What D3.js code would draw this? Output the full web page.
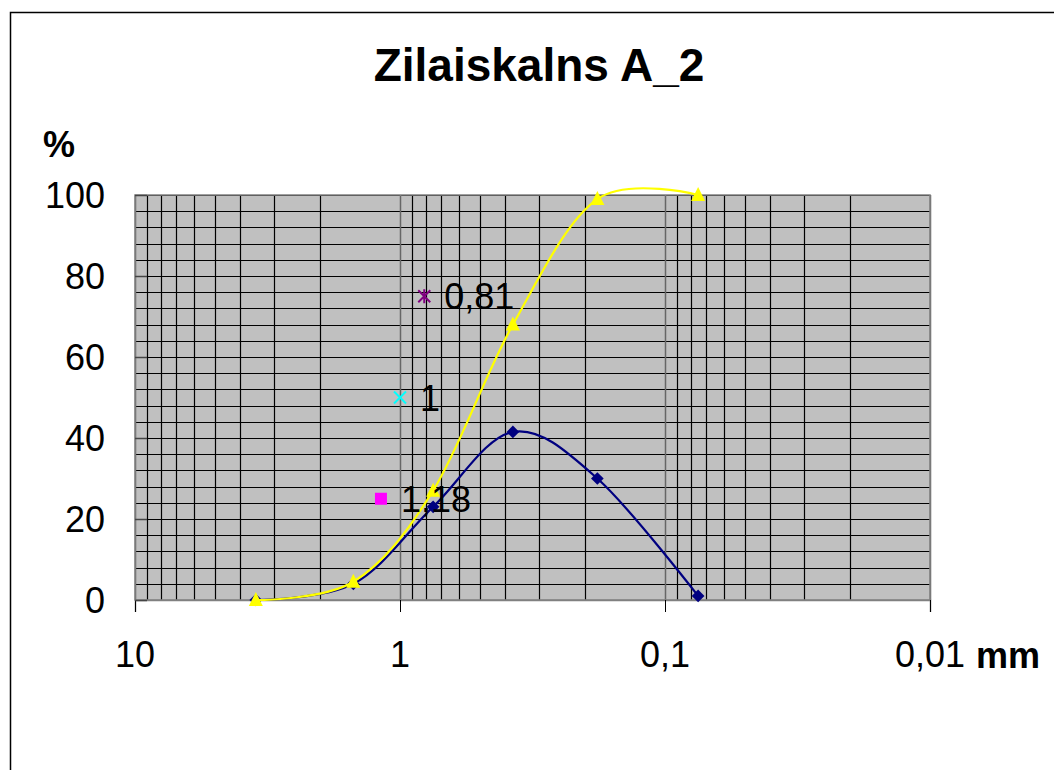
<!DOCTYPE html>
<html>
<head>
<meta charset="utf-8">
<script src="https://cdn.jsdelivr.net/npm/d3@7"></script>
<style>
    body { margin: 0; background: #fff; }
    svg text { font-family: Arial, "Liberation Sans", sans-serif; fill: #000; }
</style>
</head>
<body>
<div id="chart"></div>
<script>
// grain size (mm) of the sieve fractions
var sizes = [3.5, 1.5, 0.75, 0.375, 0.18, 0.075];
// fraction % (blue) and cumulative % (yellow)
var fraction = [0, 4, 23, 41.5, 30, 1];
var cumulative = [0, 4.5, 27, 68, 99, 100];

// single points: grain size label + level
var pointSizes = [1.18, 1, 0.81];
var pointLevels = [25, 50, 75];
var pointLabels = ["1,18", "1", "0,81"];

var xTickValues = [10, 1, 0.1, 0.01];
var xTickLabels = ["10", "1", "0,1", "0,01"];
var yTickValues = [0, 20, 40, 60, 80, 100];

var width = 1054,
    height = 770;

var svg = d3.select('#chart').append('svg')
    .attr('width', width)
    .attr('height', height);

// outer chart frame
svg.append('rect')
    .attr('x', 10.5).attr('y', 12.5)
    .attr('width', 1100).attr('height', 800)
    .attr('fill', '#fff')
    .attr('stroke', '#000')
    .attr('stroke-width', 1.5);

var x = d3.scaleLog().domain([10, 0.01]).range([135, 930]);
var y = d3.scaleLinear().domain([0, 100]).range([600, 195]);

var plot = svg.append('g');

plot.append('rect')
    .attr('x', x(10)).attr('y', y(100))
    .attr('width', x(0.01) - x(10))
    .attr('height', y(0) - y(100))
    .attr('fill', '#c0c0c0');

// horizontal grid, every 4 %
plot.selectAll('line.hgrid').data(d3.range(0, 101, 4))
    .enter().append('line')
    .attr('class', 'hgrid')
    .attr('x1', x(10)).attr('x2', x(0.01))
    .attr('y1', function(d) { return Math.round(y(d)) + 0.5; })
    .attr('y2', function(d) { return Math.round(y(d)) + 0.5; })
    .attr('stroke', '#000')
    .attr('stroke-width', 1.2);

// vertical log grid
plot.selectAll('line.vgrid').data(x.ticks())
    .enter().append('line')
    .attr('class', 'vgrid')
    .attr('x1', function(d) { return Math.round(x(d)) + 0.5; })
    .attr('x2', function(d) { return Math.round(x(d)) + 0.5; })
    .attr('y1', y(100)).attr('y2', y(0))
    .attr('stroke', function(d) {
        var l = Math.log10(d);
        return Math.abs(l - Math.round(l)) < 1e-6 ? '#666' : '#000';
    })
    .attr('stroke-width', function(d) {
        var l = Math.log10(d);
        return Math.abs(l - Math.round(l)) < 1e-6 ? 1.5 : 1.2;
    });

// plot border
plot.append('rect')
    .attr('x', x(10)).attr('y', y(100))
    .attr('width', x(0.01) - x(10))
    .attr('height', y(0) - y(100))
    .attr('fill', 'none')
    .attr('stroke', '#808080')
    .attr('stroke-width', 1.5);

// x axis: decade ticks pointing down
var xAxis = svg.append('g')
    .attr('transform', 'translate(0,' + y(0) + ')')
    .call(d3.axisBottom(x).tickValues(xTickValues).tickSize(12).tickFormat(''));
xAxis.select('.domain').attr('stroke', '#808080').attr('stroke-width', 1.5);
xAxis.selectAll('.tick line').attr('stroke', '#000');

svg.selectAll('text.xlab').data(xTickValues)
    .enter().append('text')
    .attr('class', 'xlab')
    .attr('x', function(d) { return x(d); })
    .attr('y', 667)
    .attr('text-anchor', 'middle')
    .attr('font-size', 36)
    .text(function(d, i) { return xTickLabels[i]; });

// y axis labels and short inner ticks
var yAxis = svg.append('g')
    .attr('transform', 'translate(' + x(10) + ',0)')
    .call(d3.axisRight(y).tickValues(yTickValues).tickSize(12).tickFormat(''));
yAxis.select('.domain').remove();
yAxis.selectAll('.tick line').attr('stroke', '#444').attr('stroke-width', 1.5);

svg.selectAll('text.ylab').data(yTickValues)
    .enter().append('text')
    .attr('class', 'ylab')
    .attr('x', 105)
    .attr('y', function(d) { return y(d) + 13; })
    .attr('text-anchor', 'end')
    .attr('font-size', 36)
    .text(function(d) { return d; });

// titles
svg.append('text')
    .attr('x', 539).attr('y', 81)
    .attr('text-anchor', 'middle')
    .attr('font-size', 46)
    .attr('font-weight', 'bold')
    .text('Zilaiskalns A_2');

svg.append('text')
    .attr('x', 43).attr('y', 157)
    .attr('font-size', 36)
    .attr('font-weight', 'bold')
    .text('%');

svg.append('text')
    .attr('x', 976).attr('y', 668)
    .attr('font-size', 36)
    .attr('font-weight', 'bold')
    .text('mm');

// smoothed series lines
var line = d3.line()
    .x(function(d) { return x(d[0]); })
    .y(function(d) { return y(d[1]); })
    .curve(d3.curveCatmullRom.alpha(0));

var fracData = d3.zip(sizes, fraction);
var cumData = d3.zip(sizes, cumulative);

svg.append('path')
    .datum(fracData)
    .attr('d', line)
    .attr('fill', 'none')
    .attr('stroke', '#000080')
    .attr('stroke-width', 2.2);

svg.selectAll('path.diamond').data(fracData)
    .enter().append('path')
    .attr('class', 'diamond')
    .attr('transform', function(d) { return 'translate(' + x(d[0]) + ',' + y(d[1]) + ') rotate(45)'; })
    .attr('d', 'M-4.5,-4.5H4.5V4.5H-4.5Z')
    .attr('fill', '#000080');

svg.append('path')
    .datum(cumData)
    .attr('d', line)
    .attr('fill', 'none')
    .attr('stroke', '#ffff00')
    .attr('stroke-width', 2.2);

svg.selectAll('path.tri').data(cumData)
    .enter().append('path')
    .attr('class', 'tri')
    .attr('transform', function(d) { return 'translate(' + x(d[0]) + ',' + y(d[1]) + ')'; })
    .attr('d', 'M0,-8L7,6H-7Z')
    .attr('fill', '#ffff00');

// single points
var markerColors = ['#ff00ff', '#00ffff', '#800080'];
pointSizes.forEach(function(s, i) {
    var px = x(s), py = y(pointLevels[i]);
    var g = svg.append('g').attr('transform', 'translate(' + px + ',' + py + ')');
    if (i === 0) {
        g.append('rect')
            .attr('x', -6).attr('y', -6).attr('width', 12).attr('height', 12)
            .attr('fill', markerColors[i]);
    } else {
        g.append('path')
            .attr('d', 'M-6,-6L6,6M-6,6L6,-6' + (i === 2 ? 'M0,-7V7' : ''))
            .attr('stroke', markerColors[i])
            .attr('stroke-width', 2);
    }
    svg.append('text')
        .attr('x', px + 20)
        .attr('y', py + 13)
        .attr('font-size', 36)
        .text(pointLabels[i]);
});
</script>
</body>
</html>
